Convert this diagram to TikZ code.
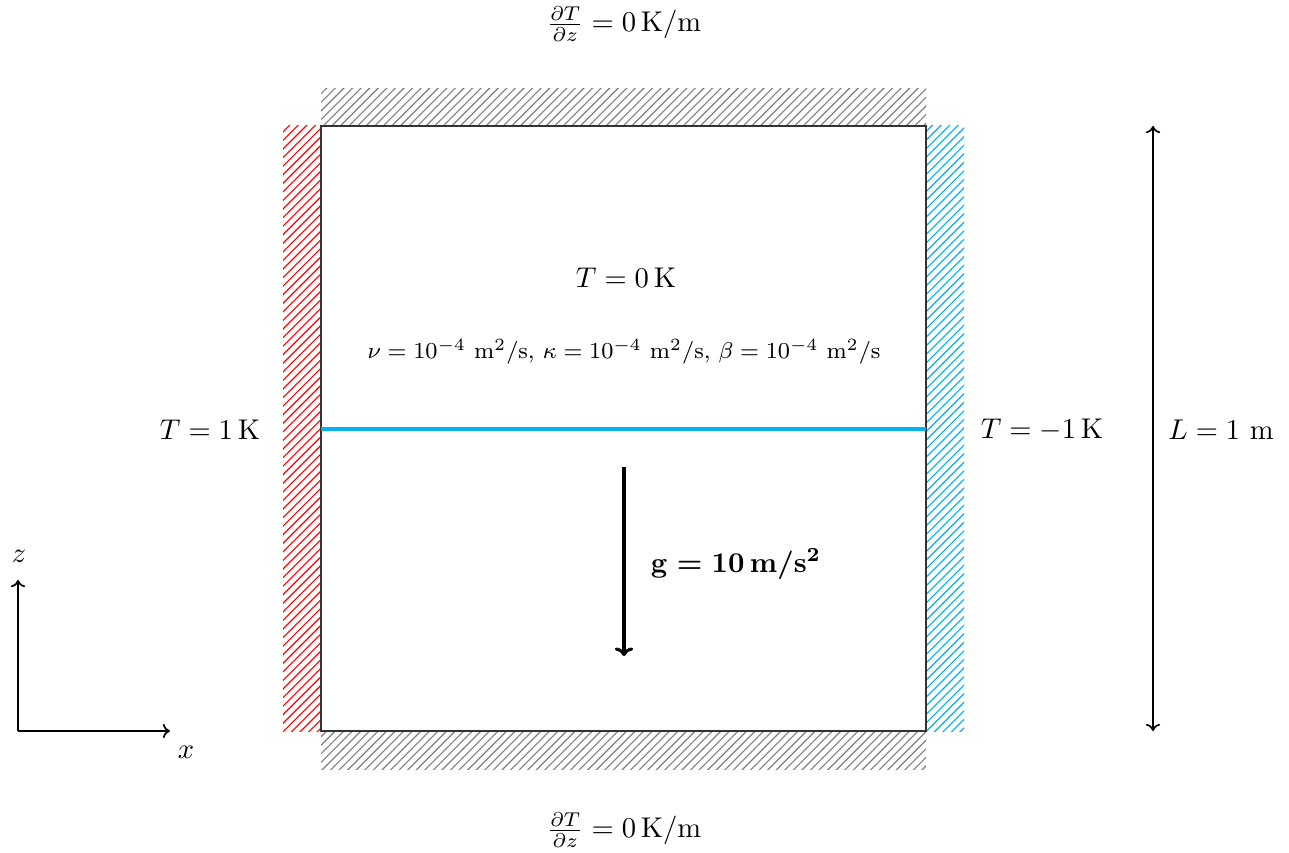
\documentclass[tikz,border=0pt]{standalone}
\usetikzlibrary{patterns,arrows.meta}
\definecolor{hotred}{RGB}{255,0,0}
\definecolor{coldcyan}{RGB}{0,176,240}
\tikzset{
  wall/.style={draw=none,pattern=north east lines},
  txt/.style={inner sep=0pt,anchor=center},
  garrow/.style={line width=1.1pt,-{To[length=3pt,width=6.5pt]}},
  thinarrow/.style={line width=0.6pt,-{To[length=2.5pt,width=5pt]}},
}
\begin{document}
\begin{tikzpicture}[x=0.35pt,y=-0.35pt]
\useasboundingbox (0,0) rectangle (1289,852);
% walls
\fill[wall,pattern color=gray] (321,89) rectangle (926,126);
\fill[wall,pattern color=gray] (321,731) rectangle (926,769);
\fill[wall,pattern color=hotred] (283,126) rectangle (321,731);
\fill[wall,pattern color=coldcyan] (926,126) rectangle (964,731);
% domain
\coordinate (bl) at (321,731);
\coordinate (tr) at (926,126);
\draw[line width=0.6pt,black!80] (bl) rectangle (tr);
\coordinate (il) at (321,429);
\coordinate (ir) at (926,429);
\draw[coldcyan,line width=1.1pt] (il) -- (ir);
% gravity
\coordinate (ga) at (624,467);
\coordinate (gb) at (624,656);
\draw[garrow] (ga) -- (gb);
\node[txt,font=\boldmath] (glbl) at (736,564) {$\mathbf{g}=\mathbf{10}\,\mathbf{m}/\mathbf{s}^{\mathbf{2}}$};
% texts
\node[txt] (t0) at (626,278) {$T=0\,$K};
\node[txt,font=\footnotesize] (props) at (624,352) {$\nu=10^{-4}$ m$^2$/s, $\kappa=10^{-4}$ m$^2$/s, $\beta=10^{-4}$ m$^2$/s};
\node[txt] (tl) at (210,430) {$T=1\,$K};
\node[txt] (trt) at (1042,430) {$T=-1\,$K};
\node[txt] (ll) at (1221,430) {$L=1$ m};
\node[txt] (top) at (624,24) {$\frac{\partial T}{\partial z}=0\,$K/m};
\node[txt] (bot) at (624,830) {$\frac{\partial T}{\partial z}=0\,$K/m};
% L arrow
\coordinate (la) at (1153,126);
\coordinate (lb) at (1153,731);
\draw[line width=0.6pt,{To[length=2.5pt,width=5pt]}-{To[length=2.5pt,width=5pt]}] (la) -- (lb);
% axes
\coordinate (o) at (18,731);
\coordinate (zend) at (18,580);
\coordinate (xend) at (170,731);
\draw[thinarrow] (o) -- (zend);
\draw[thinarrow] (o) -- (xend);
\node[txt] (zl) at (19,556) {$z$};
\node[txt] (xl) at (186,752) {$x$};
\end{tikzpicture}
\end{document}
